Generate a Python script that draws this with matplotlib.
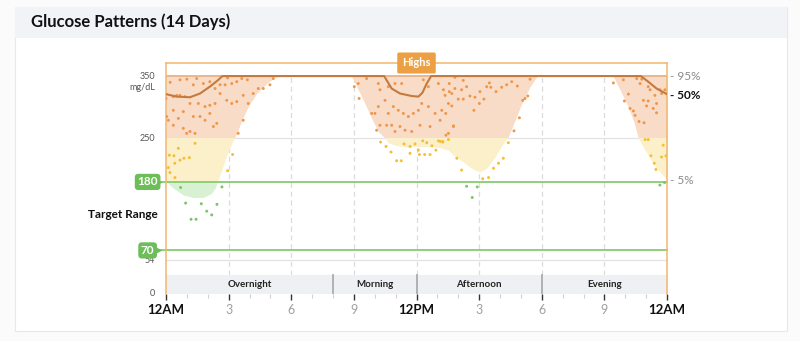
import numpy as np
import matplotlib
matplotlib.use("Agg")
import matplotlib.pyplot as plt
from matplotlib.patches import Rectangle

plt.rcParams['font.family'] = ['Lato', 'DejaVu Sans']

# ---- data ----
# 5th percentile (lower edge of band), values above 350 clipped
lower_hours = [0, 0.35, 0.83, 1.31, 1.79, 2.19, 2.35, 2.46, 2.67, 2.91, 3.15, 3.39, 3.63, 3.94,
               4.34, 4.82, 5.22, 5.45, 8.8, 8.9, 9.21, 9.53, 9.85, 10.17, 10.49, 10.65, 10.97,
               11.53, 12.01, 12.65, 13.13, 13.53, 13.77, 14.24, 14.72, 15.04, 15.36, 15.76,
               16.16, 16.4, 16.72, 17.04, 17.44, 17.76, 17.9, 21.3, 21.43, 21.75, 22.07, 22.39,
               22.63, 22.95, 23.34, 23.66, 23.94, 24]
lower_values = [181, 170, 159, 155, 155, 162, 170, 180, 199, 223, 242, 258, 279, 301,
                322, 338, 348, 350, 350, 349, 328, 306, 282, 261, 250, 243, 239,
                236, 237, 237, 235, 231, 223, 212, 200, 196, 202, 220,
                242, 253, 279, 306, 333, 349, 350, 350, 349, 328, 306, 279,
                250, 231, 210, 196, 186, 183]

# median (50%) line, clipped at 350
median_hours = [0, 0.51, 1.15, 1.63, 2.1, 2.51, 2.7, 10.45, 10.81, 11.21, 11.77, 12.09, 12.28,
                12.49, 12.7, 22.75, 23.1, 23.5, 24]
median_values = [321, 317, 316, 322, 333, 344, 350, 350, 330, 322, 318, 317, 323,
                 338, 350, 350, 341, 330, 321]

# individual readings (hour of day, mg/dL)
night_hours = [0.0, 0.35, 0.51, 0.67, 1.31, 1.47, 1.79, 2.1, 2.35, 2.59, 2.83, 3.15, 3.39, 3.63,
               0.67, 0.91, 0.35, 0.83, 1.15, 1.55, 1.87, 2.1, 2.35, 2.59, 2.91, 3.15, 3.39, 3.7,
               3.94, 4.18, 4.42, 4.66, 4.98, 5.14, 0.03, 0.11, 0.35, 0.59, 0.83, 0.99, 1.15, 1.31,
               1.39, 1.63, 1.87, 2.1, 2.27, 2.43, 3.7, 3.46, 0.2, 1.0, 2.95, 3.9,
               1.39, 0.59, 0.16, 0.38, 0.67, 0.86, 1.12, 0.42, 0.11, 0.19, 0.43, 3.19, 2.95,
               0.7, 0.94, 1.69, 2.44, 2.68, 1.95, 2.19, 1.2, 1.44]
night_values = [314, 317, 319, 344, 336, 346, 338, 341, 330, 336, 336, 338, 341, 346,
                319, 317, 295, 293, 306, 306, 301, 303, 306, 322, 311, 306, 309, 319,
                306, 322, 330, 330, 336, 346, 285, 279, 271, 282, 266, 258, 261, 285,
                258, 285, 279, 290, 269, 274, 279, 258, 340, 345, 347, 344,
                242, 234, 223, 222, 215, 218, 219, 210, 203, 195, 187, 224, 198,
                171, 146, 145, 144, 172, 133, 127, 120, 120]

day_hours = [9.02, 9.21, 9.25, 9.61, 10.17, 10.25, 10.65, 10.97, 11.29, 12.33, 12.57, 13.05,
             13.29, 13.37, 13.69, 9.85, 10.01, 10.17, 10.49, 10.65, 10.89, 11.13, 11.37, 11.61,
             11.85, 12.09, 12.25, 12.57, 12.89, 13.21, 13.53, 10.09, 10.25, 10.57, 10.81, 10.97,
             11.21, 11.45, 11.77, 12.17, 12.65, 13.13, 13.53, 13.77,
             10.28, 10.54, 10.78, 11.05, 11.27, 11.4, 11.69, 11.93, 12.09, 12.3, 12.49, 12.74,
             12.93, 12.14, 12.39, 12.65, 13.05, 13.26, 11.69]
day_values = [333, 338, 314, 346, 338, 328, 333, 338, 338, 344, 333, 338,
              328, 319, 322, 290, 290, 301, 311, 290, 301, 295, 290, 285,
              290, 295, 306, 301, 290, 295, 306, 263, 271, 271, 271, 261,
              269, 263, 261, 271, 269, 279, 258, 269,
              244, 237, 228, 214, 214, 241, 237, 241, 231, 246, 243, 238,
              231, 224, 224, 224, 246, 244, 226]

afternoon_hours = [13.84, 13.57, 14.24, 14.4, 14.16, 13.84, 13.57, 14.0, 14.24, 14.56, 14.8,
                   15.04, 15.36, 15.49, 15.56, 15.81, 16.08, 16.32, 16.56, 16.83, 17.44, 15.23,
                   15.01, 14.75, 13.69, 13.4, 17.09, 17.2, 17.33, 13.77, 13.41, 16.93, 16.67,
                   13.13, 13.25, 13.53, 13.93, 14.16, 15.17, 15.45, 15.69, 15.93, 16.16, 16.4,
                   14.4, 14.91, 14.67]
afternoon_values = [348, 338, 343, 333, 328, 330, 325, 313, 313, 318, 316,
                    325, 333, 339, 332, 325, 332, 336, 341, 334, 345, 313,
                    306, 295, 302, 290, 311, 314, 318, 270, 255, 283, 262,
                    245, 245, 248, 218, 199, 185, 187, 202, 210, 218, 243,
                    173, 172, 155]

evening_hours = [21.43, 21.91, 22.15, 21.96, 22.23, 22.39, 22.47, 22.66, 22.9, 22.55, 22.71,
                 22.79, 23.1, 23.19, 22.87, 23.1, 23.02, 23.34, 23.5, 23.5, 23.42, 23.66, 23.74,
                 23.9, 22.95, 23.1, 23.82, 23.23, 23.74, 23.95, 23.39, 23.47, 23.66, 23.88]
evening_values = [339, 344, 321, 310, 298, 294, 287, 277, 275, 346, 338,
                  345, 333, 328, 311, 310, 302, 298, 291, 306, 319, 328, 322,
                  328, 248, 248, 239, 222, 220, 222, 210, 200, 175, 179]

periods = ["Overnight", "Morning", "Afternoon", "Evening"]
period_edges = [0, 8, 12, 18, 24]
tick_hours = [0, 3, 6, 9, 12, 15, 18, 21, 24]
tick_labels = ["12AM", "3", "6", "9", "12PM", "3", "6", "9", "12AM"]

# ---- figure ----
fig = plt.figure(figsize=(8, 3.41), dpi=100)
fig.patch.set_facecolor("#fbfbfc")
fig.patches.append(Rectangle((15 / 800, 1 - 331 / 341), 772 / 800, 324 / 341,
                             transform=fig.transFigure, facecolor="white",
                             edgecolor="#e6e8eb", lw=0.8, zorder=-5))
fig.patches.append(Rectangle((15 / 800, 1 - 38 / 341), 772 / 800, 31 / 341,
                             transform=fig.transFigure, facecolor="#f1f3f6",
                             edgecolor="none", zorder=-4))
fig.text(31 / 800, 1 - 22 / 341, "Glucose Patterns (14 Days)", fontsize=12,
         fontweight="bold", va="center", ha="left", color="#111111")

ax = fig.add_axes([166 / 800, 47 / 341, 501 / 800, 231 / 341])
ax.set_zorder(2)
ax.set_xlim(0, 24)
ax.set_ylim(0, 371)
ax.set_facecolor("none")

# band, split into zones by clipping
zones = [(250, 350, "#f8dcc7"), (180, 250, "#fbf0c9"), (70, 180, "#d9f1d3")]
for lo, hi, col in zones:
    poly = ax.fill_between(lower_hours, lower_values, 350, color=col, lw=0, zorder=1)
    clip = Rectangle((0, lo), 24, hi - lo, transform=ax.transData)
    poly.set_clip_path(clip)

# grid lines
ax.axhline(250, color="#e4e4e4", lw=0.9, zorder=0.5)
ax.axhline(54, color="#e2e2e2", lw=0.9, zorder=0.5)
for h in [3, 6, 9, 12, 15, 18, 21]:
    ax.plot([h, h], [30, 350], color="#dcdcdc", lw=0.9, ls=(0, (4, 3)), zorder=0.6)

# target range lines
for v in [180, 70]:
    ax.plot([-0.5, 24], [v, v], color="#86cc72", lw=1.3, zorder=2, clip_on=False)

# 95% line at the clipped top and median
ax.plot([0, 24], [350, 350], color="#e3a574", lw=1.1, zorder=2)
ax.plot(median_hours, median_values, color="#c47a3d", lw=1.5, zorder=4,
        solid_capstyle="round")

# points
all_h = np.array(night_hours + day_hours + afternoon_hours + evening_hours)
all_v = np.array(night_values + day_values + afternoon_values + evening_values)
cols = np.where(all_v >= 250, "#f0964a", np.where(all_v >= 180, "#f5bf35", "#7cc46a"))
ax.scatter(all_h, all_v, s=4.5, c=cols, lw=0, zorder=3)

# period bar
ax.add_patch(Rectangle((0, 0), 24, 30, facecolor="#eef0f3", edgecolor="none", zorder=2))
for e in period_edges[1:-1]:
    ax.plot([e, e], [0, 30], color="#a9acb0", lw=1.3, zorder=2.5)
for name, a, b in zip(periods, period_edges[:-1], period_edges[1:]):
    ax.text((a + b) / 2, 15, name, ha="center", va="center", fontsize=7,
            fontweight="bold", color="#222222", zorder=3)

# spines
for s in ["left", "right", "top"]:
    ax.spines[s].set_color("#f2b56c")
    ax.spines[s].set_linewidth(1.1)
ax.spines["bottom"].set_visible(False)

# x ticks
ax.set_xticks(tick_hours)
ax.set_xticklabels(tick_labels)
ax.set_xticks([h for h in range(25) if h % 3 != 0], minor=True)
ax.tick_params(axis="x", which="major", length=4, width=1, pad=3, color="#333333")
ax.tick_params(axis="x", which="minor", length=3, width=0.8, color="#d0d0d0")
for tick, lab in zip(ax.xaxis.get_major_ticks(), tick_labels):
    if lab in ("12AM", "12PM"):
        tick.label1.set_fontweight("bold")
        tick.label1.set_fontsize(9.5)
        tick.label1.set_color("#111111")
    else:
        tick.label1.set_fontsize(9)
        tick.label1.set_color("#a0a0a0")
        tick.tick1line.set_color("#d0d0d0")
ax.set_yticks([])

# left labels
for v, t in [(350, "350"), (331, "mg/dL"), (250, "250"), (54, "54"), (0, "0")]:
    ax.text(-0.53, v, t, ha="right", va="center", fontsize=6.5, color="#555555",
            clip_on=False)
ax.text(-0.38, 127, "Target Range", ha="right", va="center", fontsize=8.5,
        fontweight="bold", color="#111111", clip_on=False)
for v in [180, 70]:
    ax.plot([-0.4], [v], marker=">", ms=5.5, color="#6dbd58", mec="none",
            clip_on=False, zorder=5)
    ax.text(-0.88, v, str(v), ha="center", va="center", fontsize=8.5, fontweight="bold",
            color="white", clip_on=False, zorder=6,
            bbox=dict(boxstyle="round,pad=0.22,rounding_size=0.3", fc="#6dbd58", ec="none"))

# right labels
ax.text(24.15, 350, "- 95%", ha="left", va="center", fontsize=8.5, color="#8a8a8a",
        clip_on=False)
ax.text(24.15, 318, "- 50%", ha="left", va="center", fontsize=8.5, color="#111111",
        fontweight="bold", clip_on=False)
ax.text(24.15, 183, "- 5%", ha="left", va="center", fontsize=8.5, color="#8a8a8a",
        clip_on=False)

# Highs badge
ax.text(12, 371, "Highs", ha="center", va="center", fontsize=8, fontweight="bold",
        color="white", clip_on=False, zorder=6,
        bbox=dict(boxstyle="round,pad=0.45,rounding_size=0.15", fc="#eda043", ec="none"))

fig.savefig("out.png", dpi=100)
